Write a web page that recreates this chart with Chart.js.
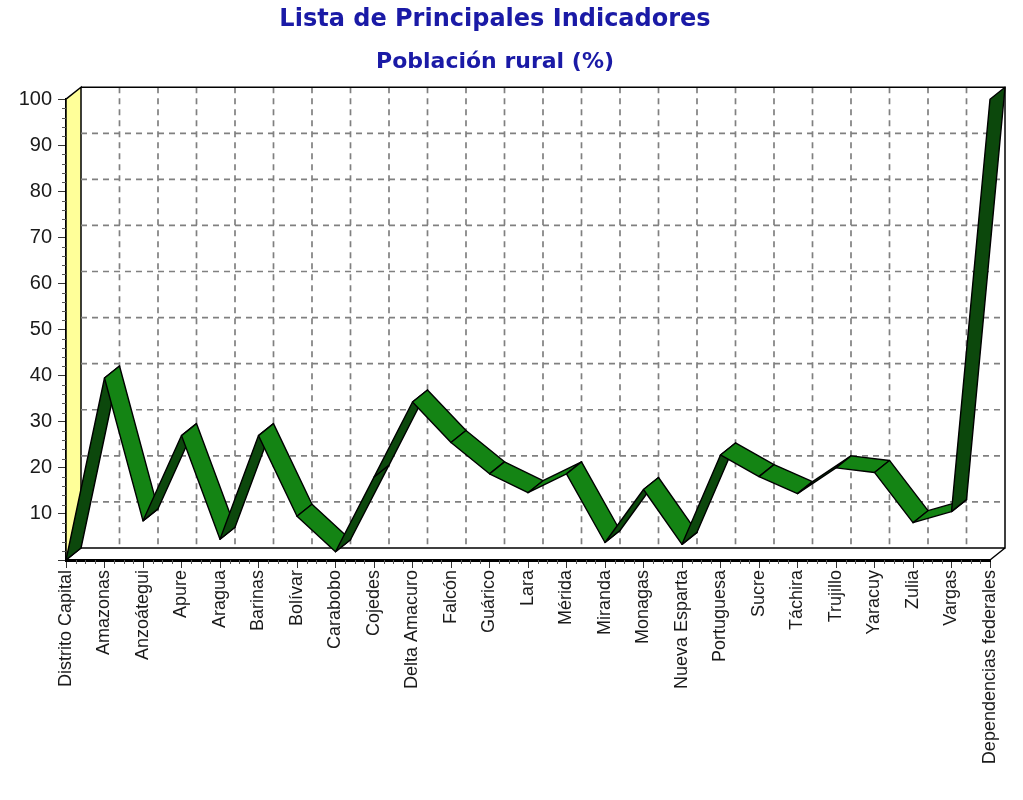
<!DOCTYPE html>
<html>
<head>
<meta charset="utf-8">
<script src="https://cdn.jsdelivr.net/npm/chart.js@4/dist/chart.umd.min.js"></script>
<style>
  body { margin: 0; background: #fff; }
  #wrap { width: 1023px; height: 800px; }
</style>
</head>
<body>
<div id="wrap"><canvas id="chart" width="1023" height="800"></canvas></div>
<script>
// Datos: población rural (%) por entidad
const estados = [
  'Distrito Capital', 'Amazonas', 'Anzoátegui', 'Apure', 'Aragua', 'Barinas',
  'Bolívar', 'Carabobo', 'Cojedes', 'Delta Amacuro', 'Falcón', 'Guárico',
  'Lara', 'Mérida', 'Miranda', 'Monagas', 'Nueva Esparta', 'Portuguesa',
  'Sucre', 'Táchira', 'Trujillo', 'Yaracuy', 'Zulia', 'Vargas',
  'Dependencias federales'
];
const poblacionRural = [
  0, 39.5, 8.5, 27, 4.5, 27, 9.5, 1.8, 18, 34.3, 25.5, 18.7,
  14.6, 18.7, 3.8, 15.3, 3.4, 22.8, 18.1, 14.4, 20, 19, 8.1, 10.5,
  100
];
const yTicks = [0, 10, 20, 30, 40, 50, 60, 70, 80, 90, 100];

// profundidad del efecto 3D (px)
const DEPTH_X = 15;
const DEPTH_Y = 12;

const GREEN_TOP = '#148414';
const GREEN_DARK = '#0c480c';

const ribbonPlugin = {
  id: 'ribbon3d',
  beforeDatasetsDraw(chart) {
    const { ctx, chartArea: a, scales: { x, y } } = chart;
    const bl = a.left + DEPTH_X, br = a.right + DEPTH_X;
    const bt = a.top - DEPTH_Y, bb = a.bottom - DEPTH_Y;
    ctx.save();

    // pared izquierda (amarilla)
    ctx.fillStyle = '#ffff99';
    ctx.strokeStyle = '#000';
    ctx.lineWidth = 1.5;
    ctx.beginPath();
    ctx.moveTo(a.left, a.top);
    ctx.lineTo(bl, bt);
    ctx.lineTo(bl, bb);
    ctx.lineTo(a.left, a.bottom);
    ctx.closePath();
    ctx.fill();
    ctx.stroke();

    // rejilla punteada en la pared del fondo
    ctx.setLineDash([6, 5]);
    ctx.strokeStyle = '#808080';
    ctx.lineWidth = 1.7;
    yTicks.forEach(v => {
      if (v === 0 || v === 100) return;
      const py = y.getPixelForValue(v) - DEPTH_Y;
      ctx.beginPath();
      ctx.moveTo(bl, py);
      ctx.lineTo(br, py);
      ctx.stroke();
    });
    estados.forEach((_, i) => {
      if (i === 0 || i === estados.length - 1) return;
      const px = x.getPixelForValue(i) + DEPTH_X;
      ctx.beginPath();
      ctx.moveTo(px, bt);
      ctx.lineTo(px, bb);
      ctx.stroke();
    });
    ctx.setLineDash([]);

    // bordes de la pared del fondo y del piso
    ctx.strokeStyle = '#000';
    ctx.lineWidth = 1.5;
    ctx.beginPath();
    ctx.moveTo(bl, bt);
    ctx.lineTo(br, bt);
    ctx.lineTo(br, bb);
    ctx.lineTo(bl, bb);
    ctx.moveTo(br, bb);
    ctx.lineTo(a.right, a.bottom);
    ctx.stroke();
    ctx.restore();
  },
  afterDatasetsDraw(chart) {
    const { ctx } = chart;
    const pts = chart.getDatasetMeta(0).data;
    ctx.save();
    ctx.lineJoin = 'round';
    ctx.strokeStyle = '#000';
    ctx.lineWidth = 1.4;
    for (let i = 0; i < pts.length - 1; i++) {
      const p = pts[i], q = pts[i + 1];
      const sx = q.x - p.x, sy = q.y - p.y;
      const cross = sx * -DEPTH_Y - sy * DEPTH_X;
      ctx.fillStyle = cross < 0 ? GREEN_TOP : GREEN_DARK;
      ctx.beginPath();
      ctx.moveTo(p.x, p.y);
      ctx.lineTo(q.x, q.y);
      ctx.lineTo(q.x + DEPTH_X, q.y - DEPTH_Y);
      ctx.lineTo(p.x + DEPTH_X, p.y - DEPTH_Y);
      ctx.closePath();
      ctx.fill();
      ctx.stroke();
    }
    ctx.restore();
  },
  afterDraw(chart) {
    // marcas menores en los ejes
    const { ctx, chartArea: a, scales: { x, y } } = chart;
    ctx.save();
    ctx.strokeStyle = '#555';
    ctx.lineWidth = 1;
    ctx.beginPath();
    for (let v = 2; v < 100; v += 2) {
      if (v % 10 === 0) continue;
      const py = Math.round(y.getPixelForValue(v)) + 0.5;
      ctx.moveTo(a.left - 4, py);
      ctx.lineTo(a.left, py);
    }
    for (let i = 0; i < estados.length - 1; i++) {
      for (let k = 1; k < 4; k++) {
        const px = Math.round(x.getPixelForValue(i + k / 4)) + 0.5;
        ctx.moveTo(px, a.bottom);
        ctx.lineTo(px, a.bottom + 4);
      }
    }
    ctx.stroke();
    ctx.restore();
  }
};

const chart = new Chart(document.getElementById('chart'), {
  type: 'line',
  data: {
    labels: estados,
    datasets: [{
      label: 'Población rural (%)',
      data: poblacionRural,
      borderColor: 'rgba(0,0,0,0)',
      pointRadius: 0,
      tension: 0
    }]
  },
  options: {
    responsive: false,
    animation: false,
    layout: { padding: { left: 0, right: 33, top: 0, bottom: 0 } },
    plugins: {
      legend: { display: false },
      tooltip: { enabled: false },
      title: {
        display: true,
        text: 'Lista de Principales Indicadores',
        color: '#1a1aa6',
        font: { family: 'DejaVu Sans', weight: 'bold', size: 24 },
        padding: { top: 5, bottom: 8 }
      },
      subtitle: {
        display: true,
        text: 'Población rural (%)',
        color: '#1a1aa6',
        font: { family: 'DejaVu Sans', weight: 'bold', size: 22 },
        padding: { top: 7, bottom: 24 }
      }
    },
    scales: {
      x: {
        offset: false,
        afterFit(scale) { scale.height = 240; },
        grid: { drawOnChartArea: false, drawTicks: true, tickLength: 8, tickColor: '#333' },
        border: { display: true, color: '#000', width: 3 },
        ticks: {
          autoSkip: false,
          maxRotation: 90,
          minRotation: 90,
          padding: 2,
          color: '#1a1a1a',
          font: { family: 'Liberation Sans', size: 18 }
        }
      },
      y: {
        min: 0,
        max: 100,
        afterFit(scale) { scale.width = 66; },
        afterBuildTicks(scale) { scale.ticks = yTicks.map(v => ({ value: v })); },
        grid: { drawOnChartArea: false, drawTicks: true, tickLength: 8, tickColor: '#333' },
        border: { display: true, color: '#000', width: 3 },
        ticks: {
          padding: 6,
          color: '#1a1a1a',
          font: { family: 'Liberation Sans', size: 20 },
          callback: v => (v === 0 ? '' : v)
        }
      }
    }
  },
  plugins: [ribbonPlugin]
});
</script>
</body>
</html>
